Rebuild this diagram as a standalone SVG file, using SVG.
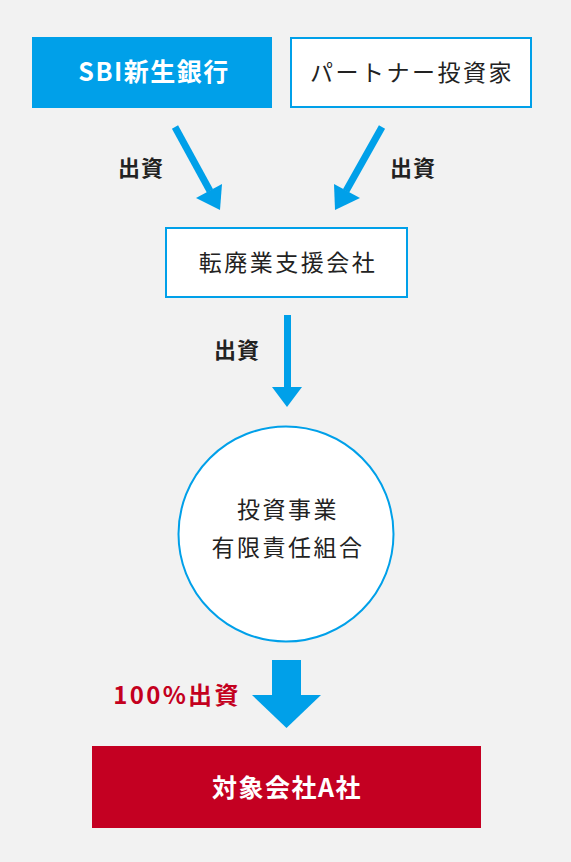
<svg xmlns="http://www.w3.org/2000/svg" width="571" height="862" viewBox="0 0 571 862">
<style>
.t{font-family:"Noto Sans CJK JP","Noto Sans",sans-serif;text-anchor:middle}
.n{font-size:23px;fill:#222;letter-spacing:2.5px}
.b{font-size:22px;font-weight:bold;fill:#222;letter-spacing:1px}
.w{font-size:25px;font-weight:bold;fill:#fff;letter-spacing:1.5px}
.r{font-size:24px;font-weight:bold;fill:#c4001e;letter-spacing:2.3px}
.box{fill:#fff;stroke:#00a0e9;stroke-width:2}
.ar{fill:#00a0e9}
</style>
<rect width="571" height="862" fill="#f2f2f2"/>
<g id="sbi">
<rect x="32" y="37" width="240" height="71" fill="#00a0e9"/>
<text class="t w" x="154" y="81">SBI新生銀行</text>
</g>
<g id="partner">
<rect class="box" x="291" y="38" width="240" height="69"/>
<text class="t n" x="412" y="81">パートナー投資家</text>
</g>
<g id="support">
<rect class="box" x="166" y="228" width="241" height="69"/>
<text class="t n" x="288" y="271">転廃業支援会社</text>
</g>
<g id="lps">
<circle cx="286" cy="534" r="107.5" fill="#fff" stroke="#00a0e9" stroke-width="2"/>
<text class="t n" x="288" y="518">投資事業</text>
<text class="t n" x="288" y="556">有限責任組合</text>
</g>
<g id="target">
<rect x="92" y="746" width="389" height="82" fill="#c40022"/>
<text class="t w" x="287" y="797">対象会社A社</text>
</g>
<g id="connectors">
<line x1="175" y1="127" x2="210" y2="191" stroke="#00a0e9" stroke-width="7"/>
<polygon class="ar" points="220,210 196,198 222,184"/>
<line x1="382" y1="127" x2="346" y2="191" stroke="#00a0e9" stroke-width="7"/>
<polygon class="ar" points="335,210 334,184 360,198"/>
<rect class="ar" x="284" y="315" width="7" height="74"/>
<polygon class="ar" points="272,387 302,387 287,407"/>
<rect class="ar" x="272" y="660" width="29" height="36"/>
<polygon class="ar" points="252,695 321,695 286.5,728"/>
<text class="t b" x="141" y="176">出資</text>
<text class="t b" x="413" y="176">出資</text>
<text class="t b" x="237" y="358">出資</text>
<text class="t r" x="177" y="704">100%出資</text>
</g>
</svg>
